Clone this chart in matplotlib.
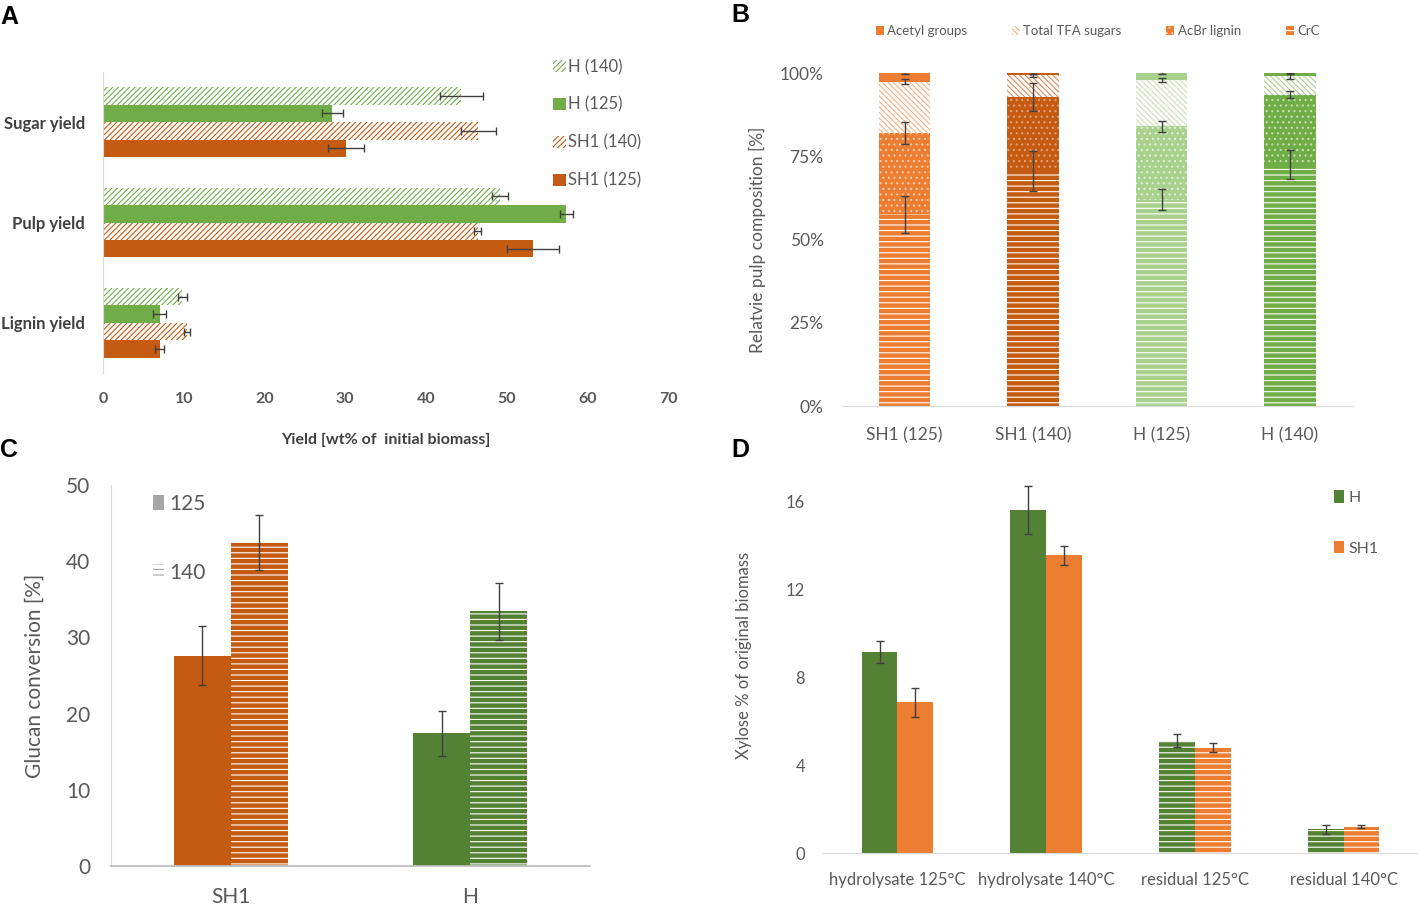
import numpy as np
import matplotlib
matplotlib.use('Agg')
import matplotlib.pyplot as plt
from matplotlib.patches import Patch
from matplotlib.ticker import PercentFormatter

plt.rcParams['font.family'] = ['Lato', 'DejaVu Sans']
plt.rcParams['hatch.linewidth'] = 0.8

W, H = 1418, 905
fig = plt.figure(figsize=(W / 100, H / 100), dpi=100)


def add_ax(l, t, r, b):
    return fig.add_axes([l / W, 1 - b / H, (r - l) / W, (b - t) / H])


GRAY = '#595959'
DGRAY = '#404040'
ERR = '#404040'
SPINE = '#D9D9D9'

ORANGE = '#ED7D31'
DORANGE = '#C55A11'
LGREEN = '#A9D18E'
GREEN = '#70AD47'
DGREEN = '#548235'

# ---------------- Panel A data ----------------
a_cats = ['Sugar yield', 'Pulp yield', 'Lignin yield']
a_series = ['H (140)', 'H (125)', 'SH1 (140)', 'SH1 (125)']
a_h140 = [44.4, 49.2, 9.8]
a_h140_err = [2.7, 1.0, 0.55]
a_h125 = [28.4, 57.4, 7.0]
a_h125_err = [1.3, 0.8, 0.8]
a_s140 = [46.5, 46.4, 10.4]
a_s140_err = [2.2, 0.45, 0.4]
a_s125 = [30.1, 53.3, 7.0]
a_s125_err = [2.25, 3.2, 0.6]
a_xticks = [0, 10, 20, 30, 40, 50, 60, 70]

# ---------------- Panel B data ----------------
b_cats = ['SH1 (125)', 'SH1 (140)', 'H (125)', 'H (140)']
b_crc = [57.6, 70.6, 62.0, 72.5]
b_acbr = [24.4, 22.2, 22.0, 21.0]
b_tfa = [15.4, 6.5, 13.8, 5.6]
b_acetyl = [2.6, 0.7, 2.2, 0.9]
b_crc_err = [5.5, 5.9, 3.1, 4.4]
b_acbr_err = [3.25, 4.1, 1.65, 1.1]
b_tfa_err = [0.7, 0.5, 0.6, 0.8]
b_acetyl_err = [0.2, 0.2, 0.25, 0.25]
b_yticks = [0, 25, 50, 75, 100]

# ---------------- Panel C data ----------------
c_cats = ['SH1', 'H']
c_125 = [27.6, 17.4]
c_125_err = [3.9, 3.0]
c_140 = [42.4, 33.4]
c_140_err = [3.6, 3.7]
c_yticks = [0, 10, 20, 30, 40, 50]

# ---------------- Panel D data ----------------
d_cats = ['hydrolysate 125°C', 'hydrolysate 140°C', 'residual 125°C', 'residual 140°C']
d_h = [9.16, 15.64, 5.12, 1.08]
d_h_err = [0.5, 1.1, 0.3, 0.2]
d_sh1 = [6.88, 13.56, 4.8, 1.2]
d_sh1_err = [0.66, 0.45, 0.2, 0.07]
d_yticks = [0, 4, 8, 12, 16]

ekw = dict(fmt='none', ecolor=ERR, elinewidth=1.0, capsize=3, capthick=1.0)

# ================= Panel A =================
axA = add_ax(103, 72, 668, 373)
pos = np.arange(len(a_cats))
h = 0.174
specs = [
    (a_h140, a_h140_err, dict(facecolor='white', edgecolor=GREEN, hatch='//////')),
    (a_h125, a_h125_err, dict(facecolor=GREEN, edgecolor=GREEN)),
    (a_s140, a_s140_err, dict(facecolor='white', edgecolor=DORANGE, hatch='//////')),
    (a_s125, a_s125_err, dict(facecolor=DORANGE, edgecolor=DORANGE)),
]
handlesA = []
for i, (vals, errs, st) in enumerate(specs):
    y = pos + (i - 1.5) * h
    axA.barh(y, vals, height=h, linewidth=0, **st)
    axA.errorbar(vals, y, xerr=errs, **ekw)
    handlesA.append(Patch(linewidth=0, **st))
axA.set_ylim(2.5, -0.5)
axA.set_xlim(0, 70)
axA.set_xticks(a_xticks)
axA.set_yticks(pos)
axA.set_yticklabels(a_cats, fontsize=12, fontweight='bold', color=DGRAY)
axA.tick_params(axis='x', length=0, pad=14, labelsize=11.5, labelcolor=GRAY)
axA.tick_params(axis='y', length=0, pad=13)
for lab in axA.get_xticklabels():
    lab.set_fontweight('bold')
for s in ['top', 'right', 'bottom']:
    axA.spines[s].set_visible(False)
axA.spines['left'].set_color(SPINE)
axA.set_xlabel('Yield [wt% of  initial biomass]', fontsize=11.5, fontweight='bold',
               color=DGRAY, labelpad=19)
fig.legend(handlesA, a_series, loc='upper left', bbox_to_anchor=(538 / W, 1 - 44 / H),
           frameon=False, fontsize=12, labelcolor=GRAY, handlelength=0.75,
           handleheight=0.75, handletextpad=0.15, labelspacing=1.3)

# ================= Panel B =================
axB = add_ax(843, 73, 1353, 406)
xb = np.arange(len(b_cats))
wb = 0.4
b_colors = [ORANGE, DORANGE, LGREEN, GREEN]
b_tfa_colors = ['#F4B183', '#E08A55', '#C5E0B4', '#A9D18E']
b_dot_colors = ['#F8CBAD', '#E3A27A', '#E2F0D9', '#C5E0B4']
bottom = np.zeros(len(b_cats))
layers = [(b_crc, b_crc_err, 'crc'), (b_acbr, b_acbr_err, 'acbr'),
          (b_tfa, b_tfa_err, 'tfa'), (b_acetyl, b_acetyl_err, 'acetyl')]
for vals, errs, kind in layers:
    vals = np.array(vals)
    for j in range(len(b_cats)):
        if kind == 'crc':
            st = dict(facecolor=b_colors[j], edgecolor='white', hatch='---')
        elif kind == 'acbr':
            st = dict(facecolor=b_colors[j], edgecolor=b_dot_colors[j], hatch='...')
        elif kind == 'tfa':
            st = dict(facecolor='white', edgecolor=b_tfa_colors[j], hatch='\\\\\\\\\\\\')
        else:
            st = dict(facecolor=b_colors[j], edgecolor=b_colors[j])
        axB.bar(xb[j], vals[j], width=wb, bottom=bottom[j], linewidth=0, **st)
    top = bottom + vals
    axB.errorbar(xb, top, yerr=errs, **ekw)
    bottom = top
axB.set_xlim(-0.48, 3.49)
axB.set_ylim(0, 100)
axB.set_yticks(b_yticks)
axB.yaxis.set_major_formatter(PercentFormatter(xmax=100, decimals=0))
axB.set_xticks(xb)
axB.set_xticklabels(b_cats)
axB.tick_params(axis='both', length=0, labelsize=12.5, labelcolor=GRAY)
axB.tick_params(axis='y', pad=14)
axB.tick_params(axis='x', pad=15)
for s in ['top', 'right', 'left']:
    axB.spines[s].set_visible(False)
axB.spines['bottom'].set_color(SPINE)
axB.set_ylabel('Relatvie pulp composition [%]', fontsize=12.5, color=GRAY, labelpad=10)
handlesB = [Patch(facecolor=ORANGE, edgecolor=ORANGE, linewidth=0),
            Patch(facecolor='white', edgecolor='#F4B183', hatch='\\\\\\\\\\\\', linewidth=0),
            Patch(facecolor=ORANGE, edgecolor='#F8CBAD', hatch='...', linewidth=0),
            Patch(facecolor=ORANGE, edgecolor='white', hatch='---', linewidth=0)]
fig.legend(handlesB, ['Acetyl groups', 'Total TFA sugars', 'AcBr lignin', 'CrC'],
           loc='center left', bbox_to_anchor=(864 / W, 1 - 31 / H), ncol=4,
           frameon=False, fontsize=9.5, labelcolor=GRAY, handlelength=0.6,
           handleheight=0.6, handletextpad=0.25, columnspacing=3.4)

# ================= Panel C =================
axC = add_ax(111, 485, 590, 866)
xc = np.arange(len(c_cats))
wc = 0.2375
c_colors = [DORANGE, DGREEN]
axC.bar(xc - wc / 2, c_125, width=wc, color=c_colors, linewidth=0)
axC.bar(xc + wc / 2, c_140, width=wc, facecolor=c_colors, edgecolor='white',
        hatch='---', linewidth=0)
axC.errorbar(xc - wc / 2, c_125, yerr=c_125_err, **ekw)
axC.errorbar(xc + wc / 2, c_140, yerr=c_140_err, **ekw)
axC.set_xlim(-0.5, 1.5)
axC.set_ylim(0, 50)
axC.set_yticks(c_yticks)
axC.set_xticks(xc)
axC.set_xticklabels(c_cats)
axC.tick_params(axis='both', length=0, labelsize=15, labelcolor=GRAY)
axC.tick_params(axis='y', pad=15)
axC.tick_params(axis='x', pad=15)
for s in ['top', 'right']:
    axC.spines[s].set_visible(False)
axC.spines['left'].set_color(SPINE)
axC.spines['bottom'].set_color('#BFBFBF')
axC.spines['bottom'].set_linewidth(1.3)
axC.set_ylabel('Glucan conversion [%]', fontsize=15, color=GRAY, labelpad=15)
handlesC = [Patch(facecolor='#A6A6A6', linewidth=0),
            Patch(facecolor='white', edgecolor='#A6A6A6', hatch='---', linewidth=0)]
fig.legend(handlesC, ['125', '140'], loc='upper left', bbox_to_anchor=(134 / W, 1 - 475 / H),
           frameon=False, fontsize=15, labelcolor=GRAY, handlelength=0.55,
           handleheight=0.75, handletextpad=0.25, labelspacing=2.35)

# ================= Panel D =================
axD = add_ax(823, 458, 1418, 853)
xd = np.arange(len(d_cats))
wd = 0.24
hydro = [True, True, False, False]
for j in range(len(d_cats)):
    if hydro[j]:
        axD.bar(xd[j] - wd / 2, d_h[j], width=wd, color=DGREEN, linewidth=0)
        axD.bar(xd[j] + wd / 2, d_sh1[j], width=wd, color=ORANGE, linewidth=0)
    else:
        axD.bar(xd[j] - wd / 2, d_h[j], width=wd, facecolor=DGREEN, edgecolor='white',
                hatch='---', linewidth=0)
        axD.bar(xd[j] + wd / 2, d_sh1[j], width=wd, facecolor=ORANGE, edgecolor='white',
                hatch='---', linewidth=0)
axD.errorbar(xd - wd / 2, d_h, yerr=d_h_err, **ekw)
axD.errorbar(xd + wd / 2, d_sh1, yerr=d_sh1_err, **ekw)
axD.set_xlim(-0.5, 3.5)
axD.set_ylim(0, 18)
axD.set_yticks(d_yticks)
axD.set_xticks(xd)
axD.set_xticklabels(d_cats)
axD.tick_params(axis='both', length=0, labelsize=12, labelcolor=GRAY)
axD.tick_params(axis='y', pad=13)
axD.tick_params(axis='x', pad=14)
for s in ['top', 'right', 'left']:
    axD.spines[s].set_visible(False)
axD.spines['bottom'].set_color(SPINE)
axD.set_ylabel('Xylose % of original biomass', fontsize=12, color=GRAY, labelpad=24)
handlesD = [Patch(facecolor=DGREEN, linewidth=0), Patch(facecolor=ORANGE, linewidth=0)]
fig.legend(handlesD, ['H', 'SH1'], loc='upper left', bbox_to_anchor=(1320 / W, 1 - 476 / H),
           frameon=False, fontsize=11.5, labelcolor=GRAY, handlelength=0.6,
           handleheight=0.8, handletextpad=0.3, labelspacing=2.25)

# ================= Panel letters =================
for letter, x, y in [('A', 0, 17), ('B', 731, 15), ('C', 0, 450), ('D', 731, 450)]:
    fig.text(x / W, 1 - y / H, letter, fontsize=18, fontweight='bold', color='black',
             family=['Liberation Sans', 'DejaVu Sans'], ha='left', va='center')

fig.savefig('out.png', dpi=100)
